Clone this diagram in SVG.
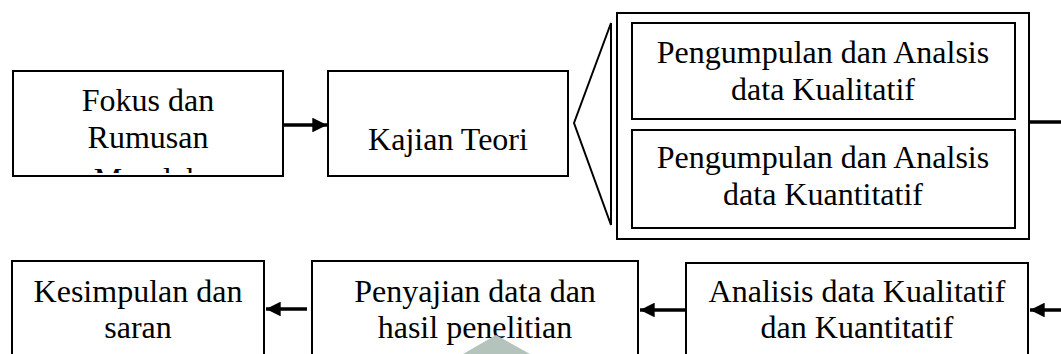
<svg xmlns="http://www.w3.org/2000/svg" width="1061" height="354" viewBox="0 0 1061 354">
<style>
.box{fill:#fff;stroke:#000;stroke-width:2}
.t{font-family:"Liberation Serif","Times New Roman",serif;font-size:32px;fill:#000;text-anchor:middle}
.con{stroke:#000;stroke-width:3.5;fill:none}
</style>
<defs>
<marker id="ah" viewBox="0 0 10 10" refX="10" refY="5" markerWidth="4.6" markerHeight="4.2" markerUnits="strokeWidth" orient="auto">
<path d="M0,0 L10,5 L0,10 z" fill="#000"/>
</marker>
<clipPath id="c1"><rect x="14" y="72" width="268" height="101"/></clipPath>
</defs>
<rect width="1061" height="354" fill="#fff"/>
<g id="n1">
<rect class="box" x="13" y="71" width="270" height="105"/>
<g clip-path="url(#c1)">
<text class="t" x="148" y="111">Fokus dan</text>
<text class="t" x="148" y="148">Rumusan</text>
<text class="t" x="148" y="190">Masalah</text>
</g>
</g>
<g id="n2">
<rect class="box" x="328" y="71" width="240" height="105"/>
<text class="t" x="448" y="150">Kajian Teori</text>
</g>
<g id="brace">
<polygon points="574,123 611,23 611,225" fill="#fff" stroke="#000" stroke-width="2"/>
</g>
<g id="n3">
<rect class="box" x="617" y="13" width="412" height="226"/>
<g id="n3a">
<rect class="box" x="632" y="23" width="383" height="96"/>
<text class="t" x="823" y="63">Pengumpulan dan Analsis</text>
<text class="t" x="823" y="100">data Kualitatif</text>
</g>
<g id="n3b">
<rect class="box" x="632" y="130" width="383" height="98"/>
<text class="t" x="823" y="168">Pengumpulan dan Analsis</text>
<text class="t" x="823" y="205">data Kuantitatif</text>
</g>
</g>
<g id="n4">
<rect class="box" x="686" y="263" width="342" height="100"/>
<text class="t" x="857" y="302">Analisis data Kualitatif</text>
<text class="t" x="857" y="338">dan Kuantitatif</text>
</g>
<g id="n5">
<rect class="box" x="312" y="261" width="326" height="100"/>
<text class="t" x="475" y="302">Penyajian data dan</text>
<text class="t" x="475" y="338">hasil penelitian</text>
</g>
<g id="n6">
<rect class="box" x="12" y="261" width="252" height="100"/>
<text class="t" x="138" y="302">Kesimpulan dan</text>
<text class="t" x="138" y="338">saran</text>
</g>
<polygon points="463,354 496,335 530,354" fill="#b4c3bc"/>
<g id="connectors">
<line class="con" x1="284" y1="125" x2="327" y2="125" marker-end="url(#ah)"/>
<line class="con" x1="1030" y1="122" x2="1061" y2="122"/>
<line class="con" x1="1061" y1="310" x2="1030" y2="310" marker-end="url(#ah)"/>
<line class="con" x1="685" y1="310" x2="640" y2="310" marker-end="url(#ah)"/>
<line class="con" x1="307" y1="309" x2="266" y2="309" marker-end="url(#ah)"/>
</g>
</svg>
